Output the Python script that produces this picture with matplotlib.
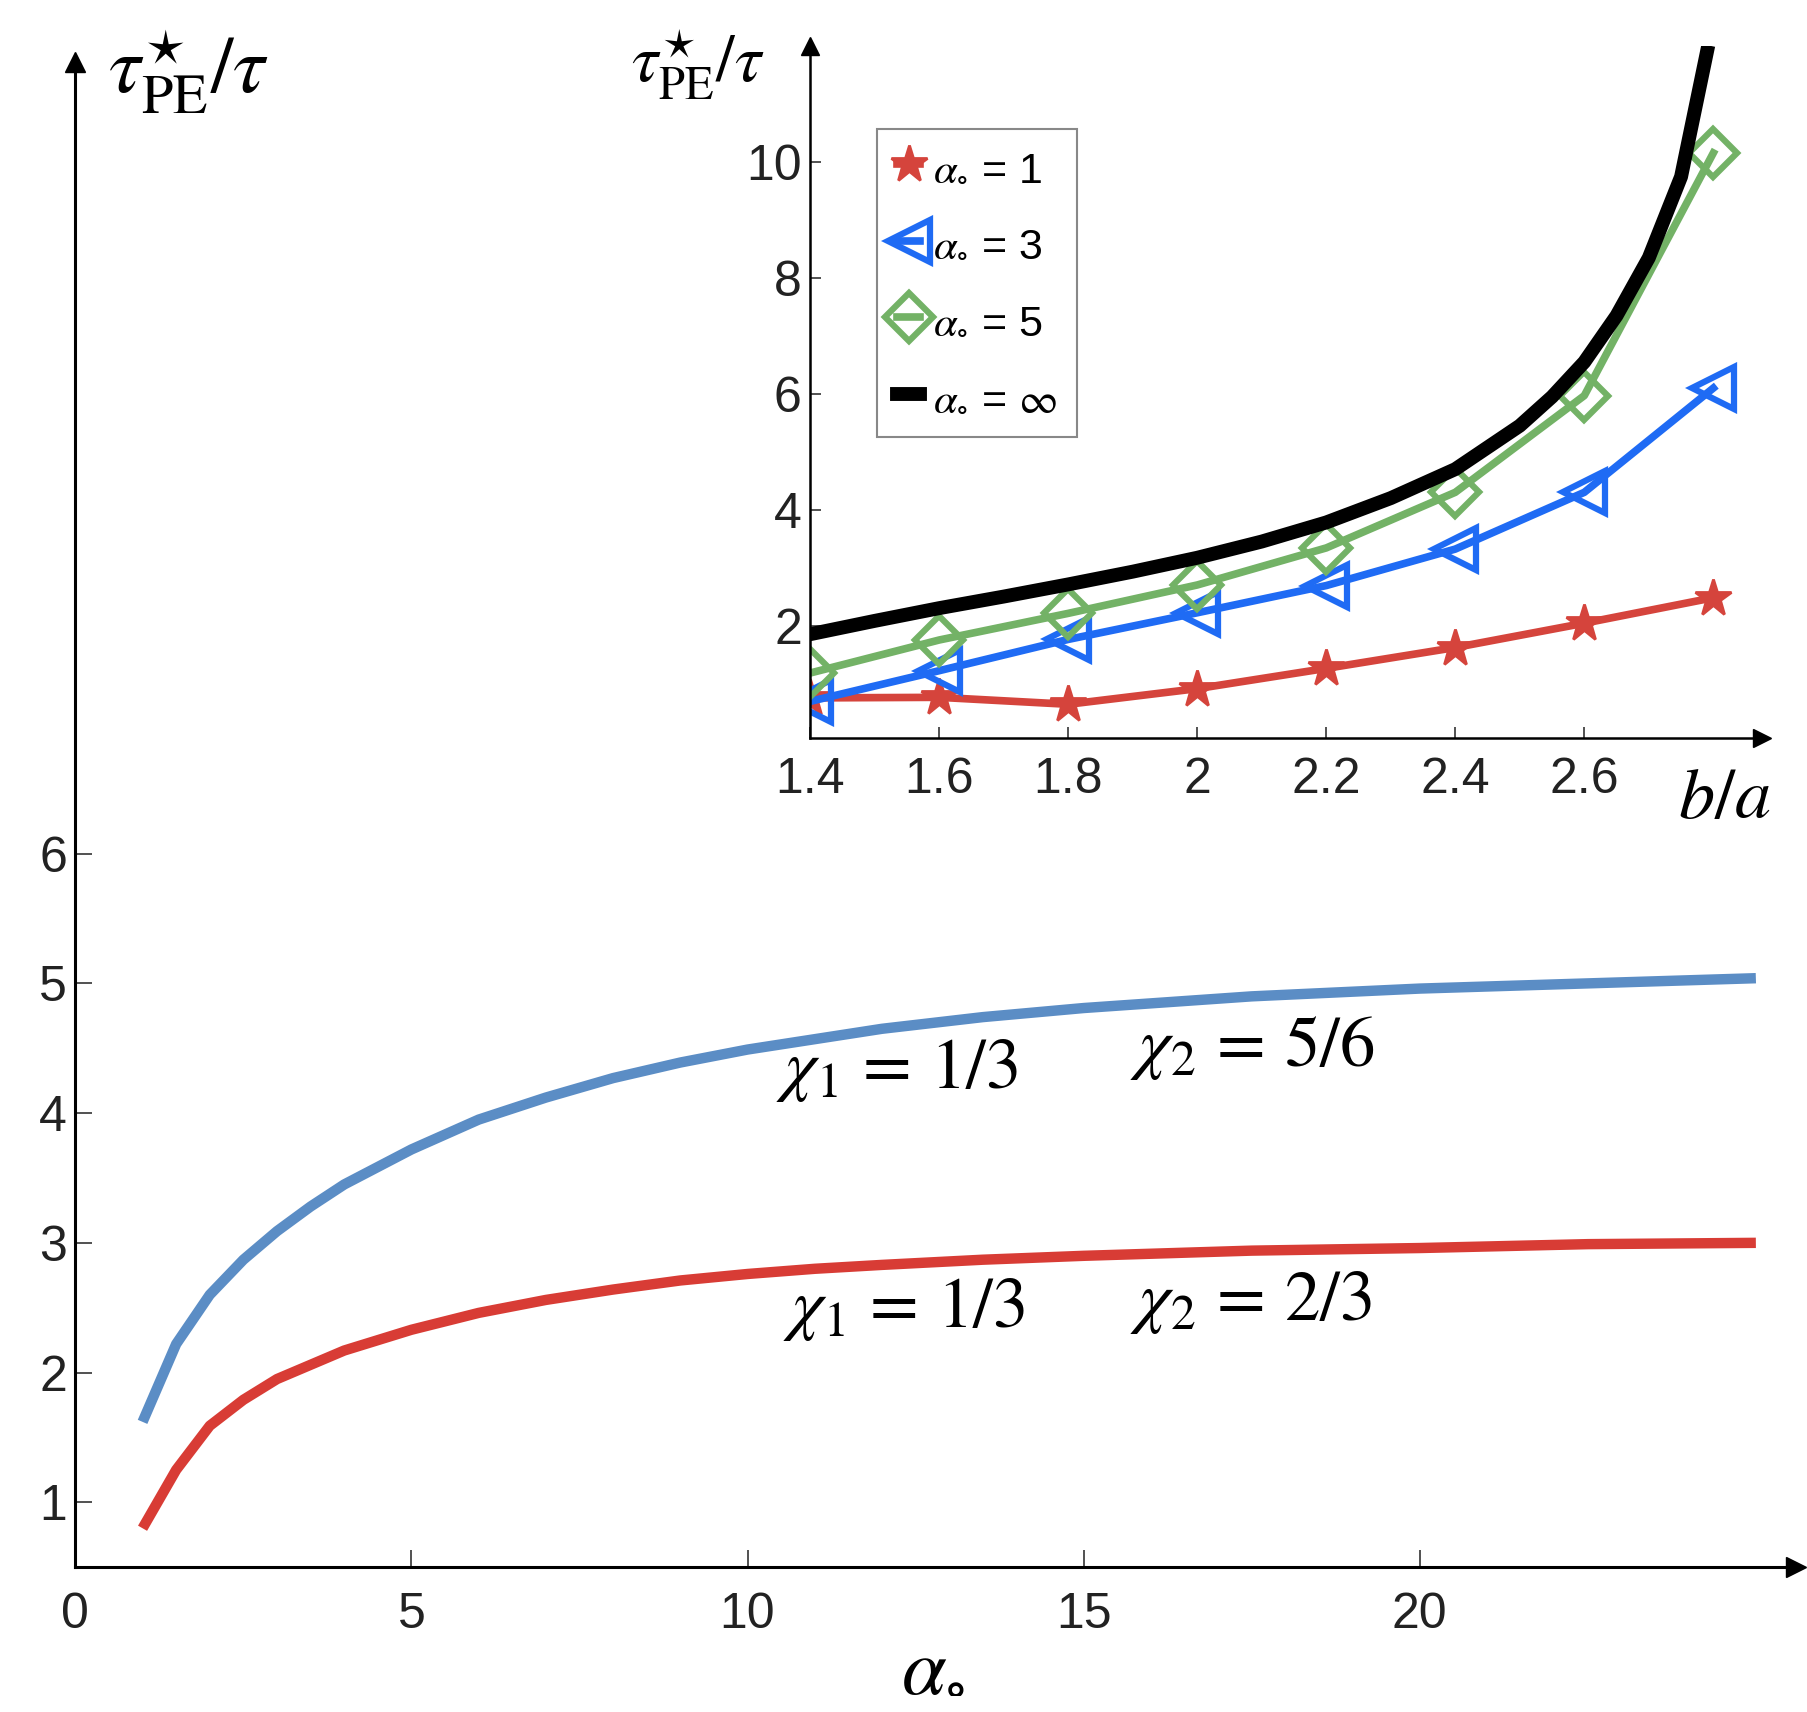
import numpy as np
import matplotlib
matplotlib.use('Agg')
import matplotlib.pyplot as plt

plt.rcParams['font.family'] = ['Liberation Sans', 'DejaVu Sans']
plt.rcParams['mathtext.fontset'] = 'stix'

# ========== Données : courbe principale ==========
alpha_main = [1, 1.5, 2, 2.5, 3, 3.5, 4, 5, 6, 7, 8, 9, 10, 11, 12, 13.5, 15,
              17.5, 20, 22.5, 25]
tau_blue = [1.62, 2.22, 2.6, 2.87, 3.09, 3.28, 3.45, 3.72, 3.95, 4.12, 4.27, 4.39,
            4.49, 4.57, 4.65, 4.74, 4.81, 4.9, 4.96, 5.0, 5.04]
tau_red = [0.8, 1.25, 1.59, 1.79, 1.95, 2.06, 2.17, 2.33, 2.46, 2.56, 2.64, 2.71,
           2.76, 2.8, 2.83, 2.87, 2.9, 2.94, 2.96, 2.99, 3.0]

# ========== Données : encart ==========
ba = [1.4, 1.6, 1.8, 2.0, 2.2, 2.4, 2.6, 2.8]
tau_a1 = [0.75, 0.76, 0.64, 0.91, 1.26, 1.62, 2.04, 2.48]
tau_a3 = [0.69, 1.22, 1.76, 2.22, 2.69, 3.32, 4.3, 6.1]
tau_a5 = [1.18, 1.75, 2.21, 2.7, 3.34, 4.3, 5.97, 10.16]
ba_inf = [1.4, 1.5, 1.6, 1.7, 1.8, 1.9, 2.0, 2.1, 2.2, 2.3, 2.4, 2.5, 2.55,
          2.6, 2.65, 2.7, 2.75, 2.79]
tau_inf = [1.85, 2.08, 2.3, 2.5, 2.71, 2.93, 3.17, 3.45, 3.78, 4.2, 4.7, 5.45,
           5.95, 6.55, 7.35, 8.35, 9.75, 11.9]

main_ticks_x = [0, 5, 10, 15, 20]
main_ticks_y = [1, 2, 3, 4, 5, 6]
inset_ticks_x = [1.4, 1.6, 1.8, 2.0, 2.2, 2.4, 2.6]
inset_ticks_x_labels = ['1.4', '1.6', '1.8', '2', '2.2', '2.4', '2.6']
inset_ticks_y = [2, 4, 6, 8, 10]

fig = plt.figure(figsize=(18.08, 17.12), dpi=100)


def style_axes(ax, lw, ms, tick_len, labelsize, padx, pady):
    for s in ['top', 'right']:
        ax.spines[s].set_visible(False)
    for s in ['left', 'bottom']:
        ax.spines[s].set_linewidth(lw)
    ax.tick_params(direction='in', length=tick_len, width=1.2, colors='#333333',
                   labelcolor='#222222', labelsize=labelsize)
    ax.tick_params(axis='x', pad=padx)
    ax.tick_params(axis='y', pad=pady)
    # flèches au bout des axes
    ax.plot(1, 0, '>', color='k', ms=ms, transform=ax.transAxes, clip_on=False)
    ax.plot(0, 1, '^', color='k', ms=ms, transform=ax.transAxes, clip_on=False)
    ax.patch.set_alpha(0)


# ========== Axe principal ==========
ax = fig.add_axes([0.04167, 0.0846, 0.9518, 0.879])
ax.plot(alpha_main, tau_blue, color='#5B8DC5', lw=7.5, solid_capstyle='butt')
ax.plot(alpha_main, tau_red, color='#D83C35', lw=7.5, solid_capstyle='butt')
ax.set_xlim(0, 25.6)
ax.set_ylim(0.5, 12.1)
ax.set_xticks(main_ticks_x)
ax.set_yticks(main_ticks_y)
style_axes(ax, 2.2, 15, 12, 36, 18, 6)

ax.text(10.43, 4.33, r'$\chi_1\,=\,1/3$', fontsize=51, va='center', ha='left')
ax.text(15.69, 4.5, r'$\chi_2\,=\,5/6$', fontsize=51, va='center', ha='left')
ax.text(10.52, 2.49, r'$\chi_1\,=\,1/3$', fontsize=51, va='center', ha='left')
ax.text(15.69, 2.54, r'$\chi_2\,=\,2/3$', fontsize=51, va='center', ha='left')

fig.text(0.060, 0.958, r'$\tau^{\star}_{\mathrm{PE}}/\tau$', fontsize=58,
         va='center', ha='left')
fig.text(0.516, 0.026, r'$\alpha_{\circ}$', fontsize=58, va='center', ha='center')

# ========== Encart ==========
axi = fig.add_axes([0.4481, 0.569, 0.5263, 0.4039])
axi.plot(ba, tau_a1, color='#D5443C', lw=5.5, marker='*', ms=28,
         mfc='#D5443C', mec='#D5443C', mew=2, label=r'$\alpha_{\circ}$ = 1')
axi.plot(ba, tau_a3, color='#1F6BF4', lw=5.5, marker='<', ms=30,
         mfc='none', mec='#1F6BF4', mew=4.5, label=r'$\alpha_{\circ}$ = 3')
axi.plot(ba, tau_a5, color='#73B266', lw=5.5, marker='D', ms=24,
         mfc='none', mec='#73B266', mew=4.5, label=r'$\alpha_{\circ}$ = 5')
axi.plot(ba_inf, tau_inf, color='k', lw=10, label=r'$\alpha_{\circ}$ = $\infty$')
axi.set_xlim(1.4, 2.875)
axi.set_ylim(0.06, 12.0)
axi.set_xticks(inset_ticks_x)
axi.set_xticklabels(inset_ticks_x_labels)
axi.set_yticks(inset_ticks_y)
style_axes(axi, 1.8, 13, 8, 36, 14, 6)

leg = axi.legend(loc='upper left', bbox_to_anchor=(0.0706, 0.881),
                 borderaxespad=0, fontsize=31, handlelength=0.55,
                 handletextpad=0.3, labelspacing=0.85, borderpad=0.45,
                 fancybox=False, framealpha=1, edgecolor='#888888')
leg.get_frame().set_linewidth(1.5)

fig.text(0.349, 0.962, r'$\tau^{\star}_{\mathrm{PE}}/\tau$', fontsize=48,
         va='center', ha='left')
fig.text(0.928, 0.533, r'$b/a$', fontsize=52, va='center', ha='left')

fig.savefig('out.png', dpi=100)
